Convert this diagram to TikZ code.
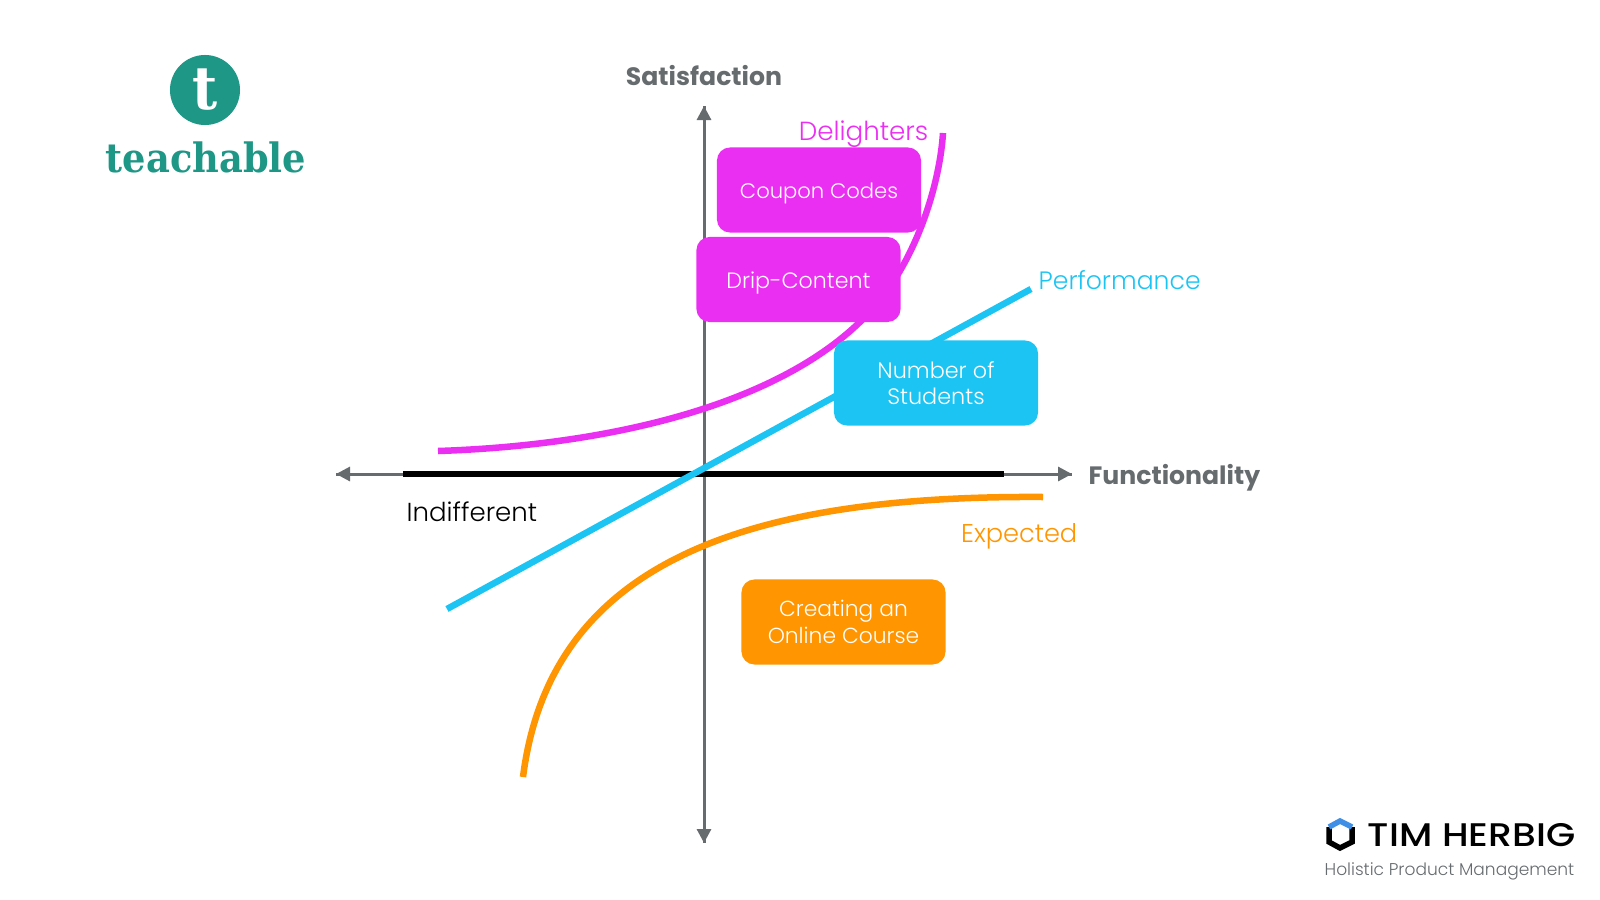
\documentclass[tikz,border=0pt]{standalone}
\usepackage{fontspec}
\setmainfont{Poppins Light}[BoldFont=Poppins Bold]
\newfontfamily\logofont[FakeStretch=0.91]{DejaVu Serif}
\newfontfamily\herbigfont[FakeStretch=1.155]{Poppins Medium}
\usepackage{tikz}
\usetikzlibrary{arrows.meta}
\definecolor{delightcol}{HTML}{EA2FF2}
\definecolor{perfcol}{HTML}{1CC4F3}
\definecolor{expectcol}{HTML}{FF9500}
\definecolor{axiscol}{HTML}{666B6E}
\definecolor{logocol}{HTML}{1F9787}
\definecolor{hexcol}{HTML}{3F8FE6}
\newcommand{\fsize}[1]{\fontsize{#1}{7.5}\selectfont}
\newcommand{\oneline}[1]{\raisebox{-0.085cm}[0pt][0pt]{#1}}
\begin{document}
\begin{tikzpicture}[x=0.01cm,y=-0.01cm]
    \tikzstyle{axisline}=[draw=axiscol,line width=0.03cm,-{Triangle[length=0.14cm,width=0.14cm]}]
    \tikzstyle{curve}=[line width=0.065cm]
    \tikzstyle{card}=[rounded corners=0.13cm,minimum width=2.04cm,minimum height=0.85cm,inner sep=0pt,align=center,text=white,font=\fsize{6.2}]
    \tikzstyle{axislabel}=[text=axiscol,font=\fsize{7.15}\bfseries,inner sep=0pt]
    \tikzstyle{curvelabel}=[font=\fsize{7.3},inner sep=0pt]
    \useasboundingbox (0,0) rectangle (1600,900);
    % axes
    \coordinate (sat_top) at (704,106);
    \coordinate (sat_bot) at (704,843);
    \coordinate (fun_left) at (336,474);
    \coordinate (fun_right) at (1072,474);
    \coordinate (ind_a) at (403,474);
    \coordinate (ind_b) at (1004,474);
    \draw[axisline] (sat_bot) -- (sat_top);
    \draw[axisline] (sat_top) -- (sat_bot);
    \draw[axisline] (fun_right) -- (fun_left);
    \draw[axisline] (fun_left) -- (fun_right);
    \draw[line width=0.06cm] (ind_a) -- (ind_b);
    % curves
    \coordinate (del_a) at (438,451);
    \coordinate (del_b) at (880,300);
    \coordinate (del_c) at (943,133);
    \coordinate (perf_a) at (447,609);
    \coordinate (perf_b) at (1031,289);
    \coordinate (exp_a) at (523,777);
    \coordinate (exp_b) at (1043,497);
    \draw[curve,delightcol] (del_a) .. controls (620,445) and (800,400) .. (del_b)
        .. controls (920,250) and (940,180) .. (del_c);
    \draw[curve,perfcol] (perf_a) -- (perf_b);
    \draw[curve,expectcol] (exp_a) .. controls (550,565) and (740,495) .. (exp_b);
    % cards
    \node[card,fill=delightcol,font=\fsize{6.0}] (coupon) at (819,190) {\oneline{Coupon Codes}};
    \node[card,fill=delightcol,font=\fsize{6.3}] (drip) at (798.5,279.5) {\oneline{Drip-Content}};
    \node[card,fill=perfcol,font=\fsize{6.35}] (students) at (936,383) {Number of\\Students};
    \node[card,fill=expectcol] (course) at (843.5,622) {Creating an\\Online Course};
    % labels
    \node[axislabel] (satisfaction) at (704,76) {Satisfaction};
    \node[axislabel,anchor=west] (functionality) at (1088,478) {Functionality};
    \node[curvelabel,text=delightcol,anchor=east,font=\fsize{7.45}] (delighters) at (929,134) {Delighters};
    \node[curvelabel,text=perfcol,anchor=west,font=\fsize{7.15}] (performance) at (1038,280) {Performance};
    \node[curvelabel,text=expectcol,anchor=east] (expected) at (1078,536) {Expected};
    \node[curvelabel,anchor=west,font=\fsize{7.4}] (indifferent) at (406,512) {Indifferent};
    % logos
    \node[circle,fill=logocol,minimum size=0.7cm,inner sep=0pt] (logo) at (205,90) {};
    \node[text=white,font=\logofont\fontsize{17}{17}\selectfont\bfseries,inner sep=0pt] (logo_t) at (205,90) {t};
    \node[text=logocol,font=\logofont\fontsize{11.5}{12}\selectfont\bfseries,inner sep=0pt] (logo_name) at (206,157) {teachable};
    \coordinate (hex_l) at (1329,827);
    \coordinate (hex_t) at (1340,821);
    \coordinate (hex_r) at (1352,827);
    \coordinate (hex_rb) at (1352,842);
    \coordinate (hex_b) at (1340,848);
    \coordinate (hex_lb) at (1329,842);
    \draw[line width=0.055cm,line join=miter] (hex_l) -- (hex_lb) -- (hex_b) -- (hex_rb) -- (hex_r);
    \draw[line width=0.055cm,hexcol,line join=miter] (hex_l) -- (hex_t) -- (hex_r);
    \node[anchor=west,inner sep=0pt,font=\herbigfont\fsize{9.3}] (tim) at (1367,835) {TIM HERBIG};
    \node[anchor=east,inner sep=0pt,text=axiscol,font=\fsize{4.85}] (holistic) at (1575,871) {Holistic Product Management};
\end{tikzpicture}
\end{document}
